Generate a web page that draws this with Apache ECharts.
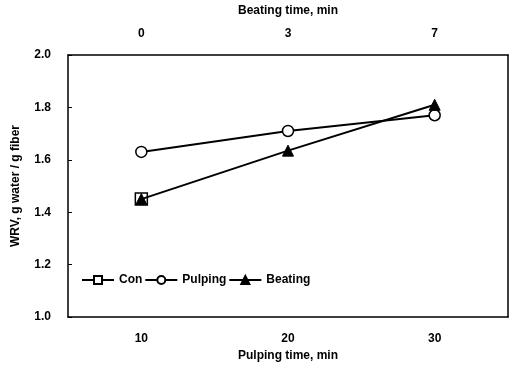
<!DOCTYPE html>
<html>
<head>
<meta charset="utf-8">
<script src="https://cdn.jsdelivr.net/npm/echarts@6/dist/echarts.min.js"></script>
<style>
  html, body { margin: 0; padding: 0; background: #fff; }
  #main { width: 515px; height: 368px; }
</style>
</head>
<body>
<div id="main"></div>
<script>
var pulpingTime = ['10', '20', '30'];
var beatingTime = ['0', '3', '7'];
var conData = [1.45, null, null];
var pulpingData = [1.63, 1.71, 1.77];
var beatingData = [1.45, 1.635, 1.81];

var chartDom = document.getElementById('main');
var myChart = echarts.init(chartDom);
var fontFam = '"Liberation Sans Narrow", "Arial Narrow", "Liberation Sans", sans-serif';
var txt = { color: '#000', fontWeight: 'bold', fontFamily: fontFam, fontSize: 12 };

var option = {
  animation: false,
  grid: { left: 68, right: 7, top: 53, bottom: 51 },
  legend: {
    left: 76, top: 269,
    itemWidth: 32, itemHeight: 10, itemGap: 2,
    textStyle: txt,
    data: ['Con', 'Pulping', 'Beating']
  },
  xAxis: [
    {
      type: 'category',
      data: pulpingTime,
      position: 'bottom',
      name: 'Pulping time, min',
      nameLocation: 'middle',
      nameGap: 25,
      nameTextStyle: txt,
      axisLine: { lineStyle: { color: '#000', width: 1.5 } },
      axisTick: { inside: true, length: 4, lineStyle: { color: '#000' } },
      axisLabel: Object.assign({ margin: 16 }, txt)
    },
    {
      type: 'category',
      data: beatingTime,
      position: 'top',
      name: 'Beating time, min',
      nameLocation: 'middle',
      nameGap: 38,
      nameTextStyle: txt,
      axisLine: { lineStyle: { color: '#000', width: 1.5 } },
      axisTick: { inside: true, length: 4, lineStyle: { color: '#000' } },
      axisLabel: Object.assign({ margin: 15 }, txt)
    }
  ],
  yAxis: [
    {
      type: 'value',
      min: 1.0, max: 2.0, interval: 0.2,
      name: 'WRV, g water / g fiber',
      nameLocation: 'middle',
      nameGap: 46,
      nameTextStyle: txt,
      axisLine: { show: true, lineStyle: { color: '#000', width: 1.5 } },
      axisTick: { show: true, inside: true, length: 4, lineStyle: { color: '#000' } },
      splitLine: { show: false },
      axisLabel: Object.assign({
        margin: 17,
        formatter: function (v) { return v.toFixed(1); }
      }, txt)
    },
    {
      type: 'value',
      min: 1.0, max: 2.0, interval: 0.2,
      position: 'right',
      axisLine: { show: true, lineStyle: { color: '#000', width: 1.5 } },
      axisTick: { show: false },
      axisLabel: { show: false },
      splitLine: { show: false }
    }
  ],
  series: [
    {
      name: 'Con', type: 'line', data: conData,
      symbol: 'rect', symbolSize: 12,
      lineStyle: { color: '#000', width: 2 },
      itemStyle: { color: '#fff', borderColor: '#000', borderWidth: 1.5 },
      z: 3
    },
    {
      name: 'Pulping', type: 'line', data: pulpingData,
      symbol: 'circle', symbolSize: 11,
      lineStyle: { color: '#000', width: 2 },
      itemStyle: { color: '#fff', borderColor: '#000', borderWidth: 1.5 }
    },
    {
      name: 'Beating', type: 'line', data: beatingData,
      symbol: 'triangle', symbolSize: 11,
      lineStyle: { color: '#000', width: 2 },
      itemStyle: { color: '#000', borderColor: '#000', borderWidth: 1 },
      z: 4
    }
  ]
};

myChart.setOption(option);
</script>
</body>
</html>
